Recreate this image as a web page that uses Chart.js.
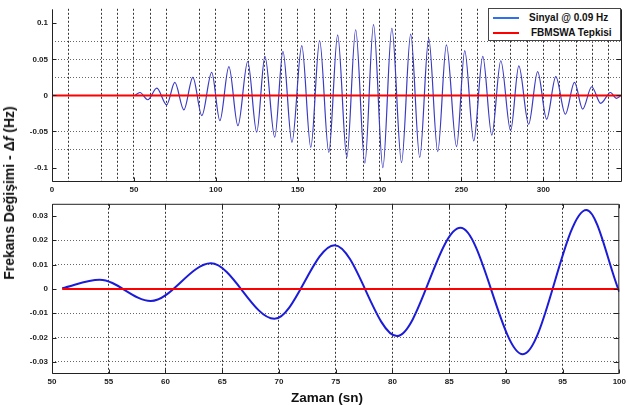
<!DOCTYPE html>
<html>
<head>
<meta charset="utf-8">
<script src="https://cdn.jsdelivr.net/npm/chart.js@4.4.1/dist/chart.umd.min.js"></script>
<style>
  html, body { margin: 0; padding: 0; background: #fff; }
  #wrap { position: relative; width: 629px; height: 405px; overflow: hidden; font-family: 'Liberation Sans', Arial, sans-serif; color: #111; }
  canvas { position: absolute; left: 0; }
  #topChart { top: 0; }
  #zoomChart { top: 195px; }
  .legend { position: absolute; left: 488px; top: 8px; width: 131px; height: 31px; border: 1.5px solid #444; background: #fff; font-weight: bold; font-size: 10px; }
  .legend .row { position: absolute; left: 0; width: 131px; height: 12px; line-height: 12px; }
  .legend .swatch { position: absolute; left: 4px; top: 5px; width: 26px; height: 2px; }
  .legend .label { position: absolute; white-space: nowrap; }
  #ytitle { position: absolute; left: 9px; top: 193px; transform: translate(-50%, -50%) rotate(-90deg); white-space: nowrap; font-weight: bold; font-size: 14px; }
  #xtitle { position: absolute; left: 327px; top: 397px; transform: translate(-50%, -50%); white-space: nowrap; font-weight: bold; font-size: 13.5px; }
</style>
</head>
<body>
<div id="wrap">
  <canvas id="topChart" width="629" height="200"></canvas>
  <canvas id="zoomChart" width="629" height="200"></canvas>
  <div class="legend">
    <div class="row" style="top:2.5px"><span class="swatch" style="background:#2f6ff0"></span><span class="label" style="left:40px">Sinyal @ 0.09 Hz</span></div>
    <div class="row" style="top:17.5px"><span class="swatch" style="background:#ff0000"></span><span class="label" style="left:42px">FBMSWA Tepkisi</span></div>
  </div>
  <div id="ytitle">Frekans Değişimi - Δ<i>f</i> (Hz)</div>
  <div id="xtitle">Zaman (sn)</div>
</div>
<script>
// top panel: signal extrema (time in s, deviation in Hz)
const topTime = [50.6, 53.7, 58.5, 64, 70, 75, 80.5, 86, 91.5, 97.5, 102.5, 108, 113.5, 119.5, 125, 130, 136, 141, 146.5,
    152.5, 158, 163.4, 169, 174.4, 180, 185.4, 191, 196.3, 202, 207.5, 213.4, 219, 224.5, 230, 235.5, 240.8, 247,
    252, 257.5, 263, 268.5, 274, 280, 285, 291, 296.5, 302, 307.6, 313.4, 319, 324, 329.5, 335, 341, 344.5, 347];
const topValue = [0, 0.004, -0.006, 0.010, -0.013, 0.018, -0.020, 0.025, -0.028, 0.032, -0.035, 0.040, -0.042, 0.047,
    -0.051, 0.054, -0.058, 0.061, -0.065, 0.069, -0.072, 0.076, -0.079, 0.084, -0.086, 0.091, -0.094, 0.098, -0.100,
    0.093, -0.093, 0.085, -0.086, 0.079, -0.078, 0.070, -0.071, 0.062, -0.063, 0.054, -0.055, 0.048, -0.049, 0.041,
    -0.040, 0.033, -0.033, 0.026, -0.026, 0.018, -0.019, 0.012, -0.011, 0.004, -0.004, -0.001];
const topResponseTime = [0, 348];
const topResponse = [0, 0];

// bottom panel: zoom on 50-100 s
const zoomTime = [50.9, 54.2, 58.7, 64.0, 69.6, 74.9, 80.4, 86.0, 91.5, 97.1, 100];
const zoomValue = [0.0003, 0.0038, -0.0050, 0.0105, -0.0123, 0.0180, -0.0194, 0.0251, -0.0269, 0.0325, -0.0012];
const zoomResponseTime = [50.9, 100];
const zoomResponse = [0, 0];

// ticks and grid lines
const topXLabels = [0, 50, 100, 150, 200, 250, 300];
const topXGrid = [10, 30, 40, 50, 60, 70, 90, 100, 120, 130, 140, 150, 160, 170, 180, 190, 200, 210, 220, 230,
    250, 260, 270, 280, 290, 300, 310, 320, 330, 340];
const topYLabels = [-0.1, -0.05, 0, 0.05, 0.1];
const topYGrid = [-0.075, -0.05, 0.025, 0.05, 0.075];
const zoomXLabels = [50, 55, 60, 65, 70, 75, 80, 85, 90, 95, 100];
const zoomXGrid = [55, 60, 65, 70, 75, 80, 85, 90, 95];
const zoomYLabels = [-0.03, -0.02, -0.01, 0, 0.01, 0.02, 0.03];
const zoomYGrid = [-0.03, -0.02, -0.01, 0.01, 0.02];

const toPoints = (xs, ys) => xs.map((x, i) => ({ x: x, y: ys[i] }));
const union = (a, b) => Array.from(new Set(a.concat(b))).sort((p, q) => p - q);

// box around the axes plus matlab style inward ticks
const axesBox = {
    id: 'axesBox',
    afterDatasetsDraw(chart, args, opts) {
        const { ctx, chartArea: a, scales } = chart;
        const L = a.left + 0.5, R = a.right - 0.5, T = a.top + 0.5, B = a.bottom - 0.5;
        ctx.save();
        ctx.strokeStyle = '#222';
        ctx.lineWidth = 1;
        ctx.beginPath();
        ctx.moveTo(L, T); ctx.lineTo(L, B); ctx.lineTo(R, B); ctx.lineTo(R, T);
        if (opts.top) ctx.lineTo(L, T);
        opts.xTicks.forEach(v => {
            const px = Math.round(scales.x.getPixelForValue(v)) + 0.5;
            ctx.moveTo(px, B); ctx.lineTo(px, B - 4);
            if (opts.top) { ctx.moveTo(px, T); ctx.lineTo(px, T + 4); }
        });
        opts.yTicks.forEach(v => {
            const py = Math.round(scales.y.getPixelForValue(v)) + 0.5;
            ctx.moveTo(L, py); ctx.lineTo(L + 4, py);
            ctx.moveTo(R, py); ctx.lineTo(R - 5, py);
        });
        ctx.stroke();
        ctx.restore();
    }
};

Chart.defaults.font.family = "'Liberation Sans', Arial, sans-serif";
Chart.defaults.font.size = 8;
Chart.defaults.font.weight = 'bold';
Chart.defaults.color = '#222';

function makeScales(xMin, xMax, xLabels, xGrid, yMin, yMax, yLabels, yGrid, xHeight) {
    const xVals = union(xLabels, xGrid);
    const yVals = union(yLabels, yGrid);
    return {
        x: {
            type: 'linear', min: xMin, max: xMax,
            afterBuildTicks: s => { s.ticks = xVals.map(v => ({ value: v })); },
            afterFit: s => { s.height = xHeight; },
            ticks: { autoSkip: false, maxRotation: 0, minRotation: 0, padding: 3,
                     callback: v => xLabels.includes(v) ? String(v) : '' },
            grid: { drawTicks: false, lineWidth: 1,
                    color: c => (c.tick && xGrid.includes(c.tick.value)) ? '#333' : 'transparent' },
            border: { display: false, dash: [2, 2] }
        },
        y: {
            type: 'linear', min: yMin, max: yMax,
            afterBuildTicks: s => { s.ticks = yVals.map(v => ({ value: v })); },
            afterFit: s => { s.width = 52; },
            ticks: { autoSkip: false, padding: 4,
                     callback: v => yLabels.includes(v) ? String(v) : '' },
            grid: { drawTicks: false, lineWidth: 1,
                    color: c => (c.tick && yGrid.includes(c.tick.value)) ? '#666' : 'transparent' },
            border: { display: false, dash: [1, 2] }
        }
    };
}

const baseOptions = {
    responsive: false,
    devicePixelRatio: 1,
    animation: false,
    plugins: { legend: { display: false }, tooltip: { enabled: false } },
    elements: { point: { radius: 0 } }
};

new Chart(document.getElementById('topChart'), {
    type: 'line',
    data: {
        datasets: [
            { data: toPoints(topResponseTime, topResponse), borderColor: '#ff0000', borderWidth: 2, order: 0 },
            { data: toPoints(topTime, topValue), borderColor: '#3a3ac2', borderWidth: 1.2,
              cubicInterpolationMode: 'monotone', order: 1 }
        ]
    },
    options: Object.assign({}, baseOptions, {
        layout: { padding: { top: 8, right: 7, left: 0, bottom: 0 } },
        scales: makeScales(0, 348, topXLabels, topXGrid, -0.12, 0.12, topYLabels, topYGrid, 18),
        plugins: Object.assign({}, baseOptions.plugins, {
            axesBox: { top: false, xTicks: topXLabels, yTicks: topYLabels }
        })
    }),
    plugins: [axesBox]
});

new Chart(document.getElementById('zoomChart'), {
    type: 'line',
    data: {
        datasets: [
            { data: toPoints(zoomResponseTime, zoomResponse), borderColor: '#ff0000', borderWidth: 2, order: 0 },
            { data: toPoints(zoomTime, zoomValue), borderColor: '#1c1cd8', borderWidth: 2,
              cubicInterpolationMode: 'monotone', order: 1 }
        ]
    },
    options: Object.assign({}, baseOptions, {
        layout: { padding: { top: 7, right: 7, left: 0, bottom: 0 } },
        scales: makeScales(50, 100, zoomXLabels, zoomXGrid, -0.035, 0.035, zoomYLabels, zoomYGrid, 21),
        plugins: Object.assign({}, baseOptions.plugins, {
            axesBox: { top: true, xTicks: zoomXLabels, yTicks: zoomYLabels }
        })
    }),
    plugins: [axesBox]
});
</script>
</body>
</html>
